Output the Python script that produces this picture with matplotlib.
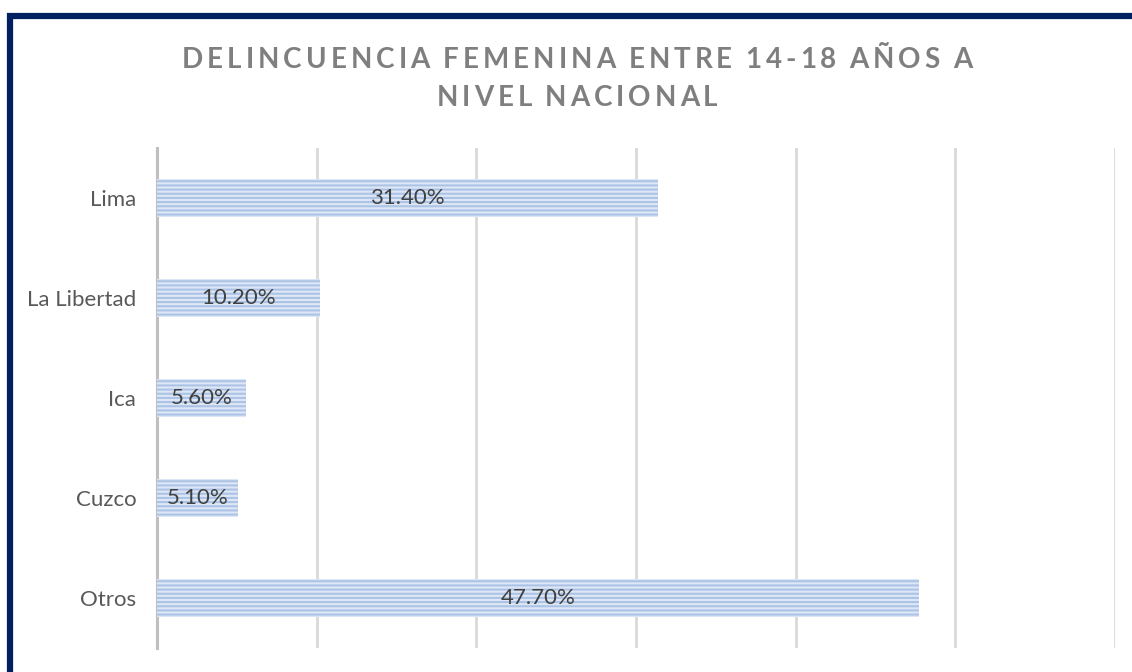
import matplotlib
matplotlib.use("Agg")
import matplotlib.pyplot as plt
from matplotlib.patches import Rectangle
from matplotlib.font_manager import FontProperties

regiones = ["Lima", "La Libertad", "Ica", "Cuzco", "Otros"]
porcentajes = [0.314, 0.102, 0.056, 0.051, 0.477]
etiquetas = ["31.40%", "10.20%", "5.60%", "5.10%", "47.70%"]
titulo = ["DELINCUENCIA FEMENINA ENTRE 14-18 AÑOS A", "NIVEL NACIONAL"]

W, H = 1132, 672
plt.rcParams['font.family'] = ['Lato', 'DejaVu Sans']
plt.rcParams['hatch.linewidth'] = 1.4
plt.rcParams['hatch.color'] = '#A9C2E6'

fig = plt.figure(figsize=(W / 100, H / 100), dpi=100)
ax = fig.add_axes([157/W, 1 - 648/H, (1115 - 157)/W, 500/H])

y = list(range(len(regiones)))
bars = ax.barh(y, porcentajes, height=0.38, color='#DCE6F4',
               edgecolor='#A9C2E6', linewidth=0, hatch='----', zorder=3)
for b, lab in zip(bars, etiquetas):
    ax.text(b.get_width() / 2, b.get_y() + b.get_height() / 2, lab,
            ha='center', va='center', fontsize=16, color='#404040', zorder=4)

ax.set_xlim(0, 0.6)
ax.set_ylim(len(regiones) - 0.5, -0.5)
ax.set_yticks(y)
ax.set_yticklabels(regiones, fontsize=16, color='#595959')
ax.set_xticks([0.1, 0.2, 0.3, 0.4, 0.5, 0.6])
ax.set_xticklabels([])
ax.tick_params(axis='both', length=0)
ax.tick_params(axis='y', pad=15)
ax.grid(axis='x', color='#D9D9D9', linewidth=2, zorder=0)
for s in ['top', 'right', 'bottom']:
    ax.spines[s].set_visible(False)
ax.spines['left'].set_color('#BFBFBF')
ax.spines['left'].set_linewidth(2.2)

# title with letter spacing, drawn char by char
r = fig.canvas.get_renderer()
fp = FontProperties(family=['Lato', 'DejaVu Sans'], weight='bold', size=20)
ancho = 790   # width of first title line in px
cx = 577
gap = None
for line, base in zip(titulo, [68, 106]):
    ws = []
    for c in line:
        if c == ' ':
            ws.append(5)
        else:
            ws.append(r.get_text_width_height_descent(c, fp, ismath=False)[0])
    if gap is None:
        gap = (ancho - sum(ws)) / (len(line) - 1)
    total = sum(ws) + gap * (len(line) - 1)
    x = cx - total / 2
    for c, w in zip(line, ws):
        if c != ' ':
            fig.text(x / W, 1 - base / H, c, fontproperties=fp, color='#7F7F7F',
                     ha='left', va='baseline')
        x += w + gap

fig.patches.append(Rectangle((10/W, -0.5), 1.5, 1 - 16/H + 0.5,
                             transform=fig.transFigure, fill=False,
                             edgecolor='#002060', linewidth=4.5))

fig.savefig("out.png", dpi=100)
